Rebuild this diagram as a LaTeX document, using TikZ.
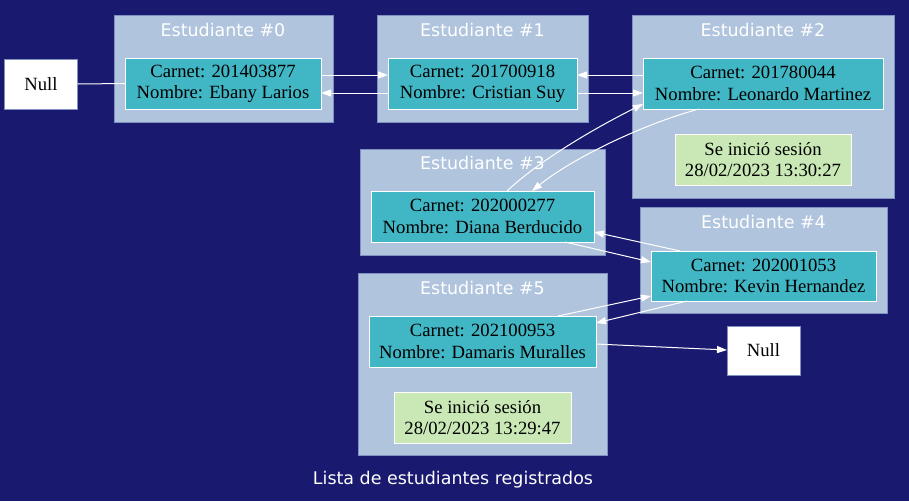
\documentclass[tikz,border=0pt]{standalone}
\usepackage{fontspec}
\setmainfont{Liberation Serif}
\newfontfamily\clfont{DejaVu Sans}
\usetikzlibrary{arrows.meta}
\definecolor{bg}{HTML}{191970}
\definecolor{clfill}{HTML}{B0C4DE}
\definecolor{clline}{HTML}{8090C0}
\definecolor{nfill}{HTML}{41B6C4}
\definecolor{sfill}{HTML}{C9E8B6}
\begin{document}
\begin{tikzpicture}[x=0.75pt,y=-0.75pt,
  wh/.style 2 args={minimum width=#1*0.75pt, minimum height=#2*0.75pt},
  txt/.style={font=\fontsize{14}{16}\selectfont, align=center, inner sep=0pt, outer sep=0pt},
  stud/.style={txt, draw=white, line width=0.75pt, fill=nfill},
  sess/.style={txt, draw=white, line width=0.75pt, fill=sfill},
  nullbox/.style={txt, draw=clline, line width=0.75pt, fill=white},
  cluster/.style={fill=clfill, draw=clline, line width=0.5pt},
  cllabel/.style={font=\clfont\fontsize{13.1}{15}\selectfont, text=white, inner sep=0pt},
  link/.style={draw=white, line width=0.75pt},
  arr/.style={link, -{Triangle[length=7.5pt, width=5.25pt]}}
]
\fill[bg] (0,0) rectangle (909,501);
\useasboundingbox (0,0) rectangle (909,501);

% clusters
\draw[cluster] (114,15) rectangle (333,122);
\draw[cluster] (377,15) rectangle (588,122);
\draw[cluster] (632,15) rectangle (894,198);
\draw[cluster] (360,149) rectangle (605,255);
\draw[cluster] (640,207) rectangle (887,313);
\draw[cluster] (358,273) rectangle (607,455);

\node[cllabel] (l0) at (223,30) {Estudiante \#0};
\node[cllabel] (l1) at (482.5,30) {Estudiante \#1};
\node[cllabel] (l2) at (763,30) {Estudiante \#2};
\node[cllabel] (l3) at (482.5,163) {Estudiante \#3};
\node[cllabel] (l4) at (763.5,222) {Estudiante \#4};
\node[cllabel] (l5) at (482.5,288) {Estudiante \#5};

% nodes
\node[nullbox, wh={73}{50}] (null0) at (41,84) {Null};
\node[stud, wh={196}{51}] (n0) at (223,83.5) {Carnet: 201403877\\Nombre: Ebany Larios};
\node[stud, wh={189}{51}] (n1) at (482.5,83.5) {Carnet: 201700918\\Nombre: Cristian Suy};
\node[stud, wh={240}{51}] (n2) at (763,83.5) {Carnet: 201780044\\Nombre: Leonardo Martinez};
\node[sess, wh={176}{51}] (s2) at (763,159.5) {Se inició sesión\\28/02/2023 13:30:27};
\node[stud, wh={223}{51}] (n3) at (482.5,216.5) {Carnet: 202000277\\Nombre: Diana Berducido};
\node[stud, wh={225}{50}] (n4) at (763.5,276) {Carnet: 202001053\\Nombre: Kevin Hernandez};
\node[stud, wh={227}{51}] (n5) at (482.5,341.5) {Carnet: 202100953\\Nombre: Damaris Muralles};
\node[sess, wh={177}{51}] (s5) at (482.5,417.5) {Se inició sesión\\28/02/2023 13:29:47};
\node[nullbox, wh={73}{49}] (null1) at (763.5,350.5) {Null};

\node[cllabel] (title) at (453,480) {Lista de estudiantes registrados};

% edges
\draw[link] (null0.east) -- (n0.west);
\draw[arr] ([shift={(0,-8.5)}]n0.east) -- ([shift={(0,-8.5)}]n1.west);
\draw[arr] ([shift={(0,9.5)}]n1.west) -- ([shift={(0,9.5)}]n0.east);
\draw[arr] ([shift={(0,-8.5)}]n2.west) -- ([shift={(0,-8.5)}]n1.east);
\draw[arr] ([shift={(0,9.5)}]n1.east) -- ([shift={(0,9.5)}]n2.west);
\draw[arr] ([shift={(-64,0)}]n2.south) .. controls (640,125) and (570,160) .. ([shift={(49.5,0)}]n3.north);
\draw[arr] ([shift={(24.5,0)}]n3.north) .. controls (540,160) and (595,128) .. ([shift={(0,20.5)}]n2.west);
\draw[arr] ([shift={(82.5,0)}]n3.south) -- ([shift={(0,-14)}]n4.west);
\draw[arr] ([shift={(-83.5,0)}]n4.north) -- ([shift={(0,15.5)}]n3.east);
\draw[arr] ([shift={(75.5,0)}]n5.north) -- ([shift={(0,20)}]n4.west);
\draw[arr] ([shift={(-76.5,0)}]n4.south) -- ([shift={(0,-18.5)}]n5.east);
\draw[arr] ([shift={(0,2.5)}]n5.east) -- ([shift={(0,-0.5)}]null1.west);
\end{tikzpicture}
\end{document}
